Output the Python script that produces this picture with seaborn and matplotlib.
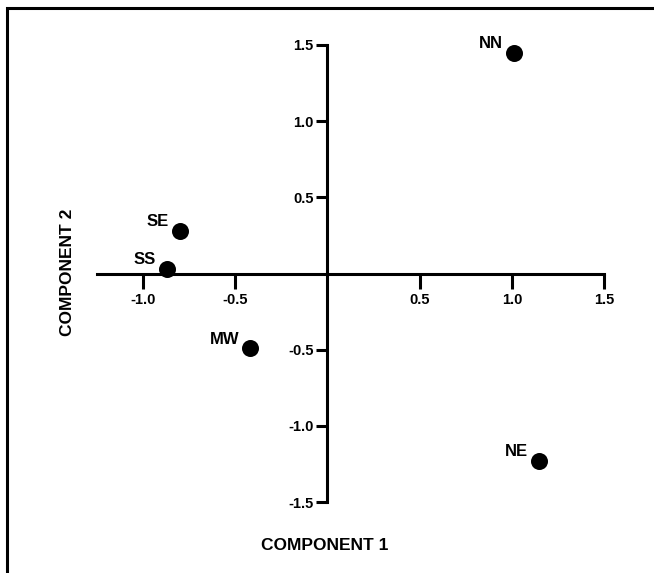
import seaborn as sns
import pandas as pd
from matplotlib import pyplot as plt
from matplotlib.patches import Rectangle

regions = ["NN", "SE", "SS", "MW", "NE"]
component_1 = [1.01, -0.80, -0.87, -0.42, 1.15]
component_2 = [1.45, 0.28, 0.03, -0.49, -1.23]

x_ticks = [-1.0, -0.5, 0.5, 1.0, 1.5]
y_ticks = [-1.5, -1.0, -0.5, 0.5, 1.0, 1.5]


def main() -> None:
    sns.set_style("white")
    plt.rcParams["font.family"] = ["Liberation Sans", "DejaVu Sans"]
    plt.rcParams["font.weight"] = "bold"
    for key in ("text.color", "axes.labelcolor", "xtick.color", "ytick.color"):
        plt.rcParams[key] = "black"

    df = pd.DataFrame({"region": regions, "c1": component_1, "c2": component_2})

    fig = plt.figure(figsize=(6.54, 5.73), dpi=100)
    W, H = 654, 573
    ax = fig.add_axes([97 / W, 1 - 502 / H, (604 - 97) / W, (502 - 45) / H])

    sns.scatterplot(data=df, x="c1", y="c2", ax=ax, color="black", s=150,
                    edgecolor="black", linewidth=0, clip_on=False, legend=False)

    for _, row in df.iterrows():
        ax.annotate(row["region"], (row["c1"], row["c2"]), xytext=(-11, 9),
                    textcoords="offset pixels", ha="right", va="center",
                    fontsize=12, fontweight="bold", color="black")

    ax.set_xlim(-1.25, 1.5)
    ax.set_ylim(-1.5, 1.5)

    for side in ("top", "right"):
        ax.spines[side].set_visible(False)
    ax.spines["left"].set_position(("data", 0))
    ax.spines["bottom"].set_position(("data", 0))
    for side in ("left", "bottom"):
        ax.spines[side].set_linewidth(2.2)
        ax.spines[side].set_color("black")

    ax.set_xticks(x_ticks)
    ax.set_yticks(y_ticks)
    ax.set_xticklabels([f"{t:.1f}" for t in x_ticks], fontsize=10.5, fontweight="bold")
    ax.set_yticklabels([f"{t:.1f}" for t in y_ticks], fontsize=10.5, fontweight="bold")
    ax.tick_params(axis="x", direction="out", length=11, width=2.2, pad=3, bottom=True)
    ax.tick_params(axis="y", direction="out", length=8, width=2.2, pad=2, left=True)

    ax.set_xlabel("")
    ax.set_ylabel("")
    fig.text(325 / W, 1 - 545 / H, "COMPONENT 1", ha="center", va="center",
             fontsize=12.5, fontweight="bold")
    fig.text(68 / W, 1 - 272 / H, "COMPONENT 2", ha="center", va="center",
             rotation=90, fontsize=12.5, fontweight="bold")

    # рамка вокруг всей картинки (правый и нижний край обрезаны)
    fig.patches.append(Rectangle((7 / W, -0.05), 1.1, 1 - 8 / H + 0.05,
                                 transform=fig.transFigure, fill=False,
                                 edgecolor="black", linewidth=2.2))

    fig.savefig("out.png", dpi=100)


if __name__ == "__main__":
    main()
